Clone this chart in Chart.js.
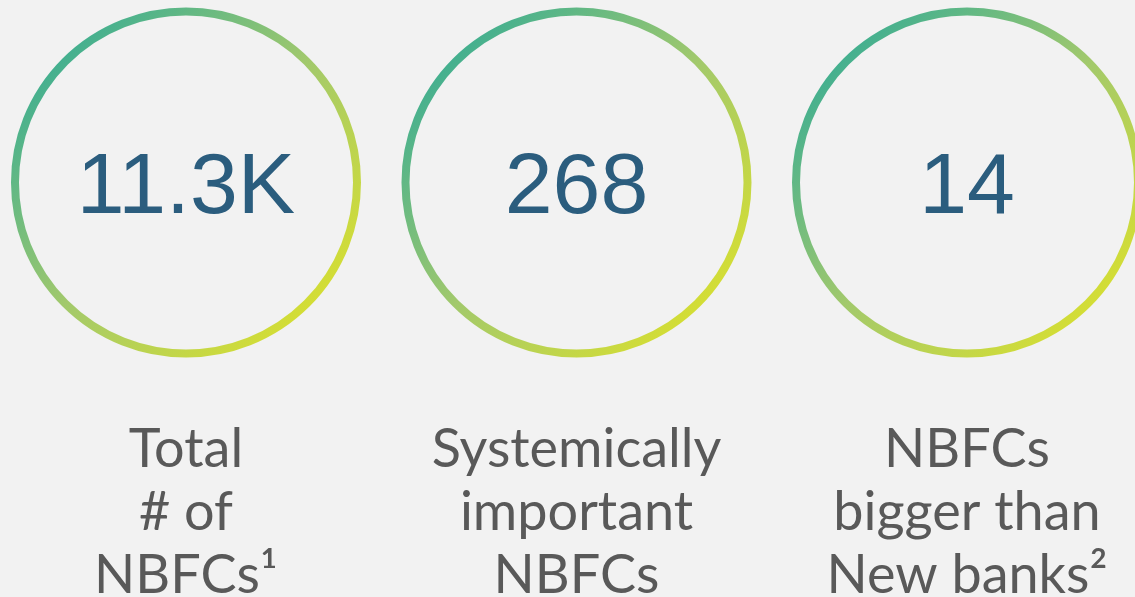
<!DOCTYPE html>
<html>
<head>
<meta charset="utf-8">
<script src="https://cdn.jsdelivr.net/npm/chart.js@4/dist/chart.umd.min.js"></script>
<style>
  html, body { margin: 0; padding: 0; background: #f2f2f2; }
  canvas { display: block; }
</style>
</head>
<body>
<canvas id="kpiChart" width="1135" height="597"></canvas>
<script>
// Data
const categories = [
  ['Total', '# of', 'NBFCs\u00b9'],
  ['Systemically', 'important', 'NBFCs'],
  ['NBFCs', 'bigger than', 'New banks\u00b2']
];
const valueLabels = ['11.3K', '268', '14'];

const ringRadius = 171;
const ringWidth = 8;

// gradient ring per point (teal top-left -> lime bottom-right)
function ringGradient(c) {
  const chart = c.chart;
  const xs = chart.scales.x, ys = chart.scales.y;
  if (!xs || !ys || c.dataIndex === undefined) return '#8cc47a';
  const cx = xs.getPixelForValue(c.dataIndex);
  const cy = ys.getPixelForValue(1);
  if (!Number.isFinite(cx) || !Number.isFinite(cy)) return '#8cc47a';
  const d = ringRadius * 0.72;
  const g = chart.ctx.createLinearGradient(cx - d, cy - d, cx + d, cy + d);
  g.addColorStop(0, '#45b08f');
  g.addColorStop(0.5, '#a2c96c');
  g.addColorStop(1, '#d3dd36');
  return g;
}

// draws the number in each ring and the caption below it
const textPlugin = {
  id: 'ringText',
  afterDatasetsDraw(chart) {
    const ctx = chart.ctx;
    const meta = chart.getDatasetMeta(0);
    ctx.save();
    ctx.textAlign = 'center';
    ctx.textBaseline = 'alphabetic';
    meta.data.forEach((pt, i) => {
      ctx.fillStyle = '#2b5d7e';
      ctx.font = '86px "Liberation Sans", Arial, sans-serif';
      ctx.fillText(valueLabels[i], pt.x, pt.y + 30);

      ctx.fillStyle = '#595959';
      ctx.font = '54px Lato, "Open Sans", sans-serif';
      categories[i].forEach((line, j) => {
        ctx.fillText(line, pt.x, pt.y + 284 + j * 63);
      });
    });
    ctx.restore();
  }
};

new Chart(document.getElementById('kpiChart'), {
  type: 'scatter',
  data: {
    datasets: [{
      data: valueLabels.map((v, i) => ({ x: i, y: 1 })),
      pointRadius: ringRadius,
      pointHoverRadius: ringRadius,
      borderWidth: ringWidth,
      pointBorderWidth: ringWidth,
      pointBorderColor: ringGradient,
      pointBackgroundColor: 'rgba(0,0,0,0)',
      clip: false
    }]
  },
  options: {
    responsive: false,
    devicePixelRatio: 1,
    animation: false,
    events: [],
    layout: { autoPadding: false, padding: { top: 0, bottom: 232, left: 0, right: 0 } },
    plugins: { legend: { display: false }, tooltip: { enabled: false } },
    scales: {
      x: { type: 'linear', min: -0.4763, max: 2.4302, display: false },
      y: { type: 'linear', min: 0, max: 2, display: false }
    }
  },
  plugins: [textPlugin]
});
</script>
</body>
</html>
